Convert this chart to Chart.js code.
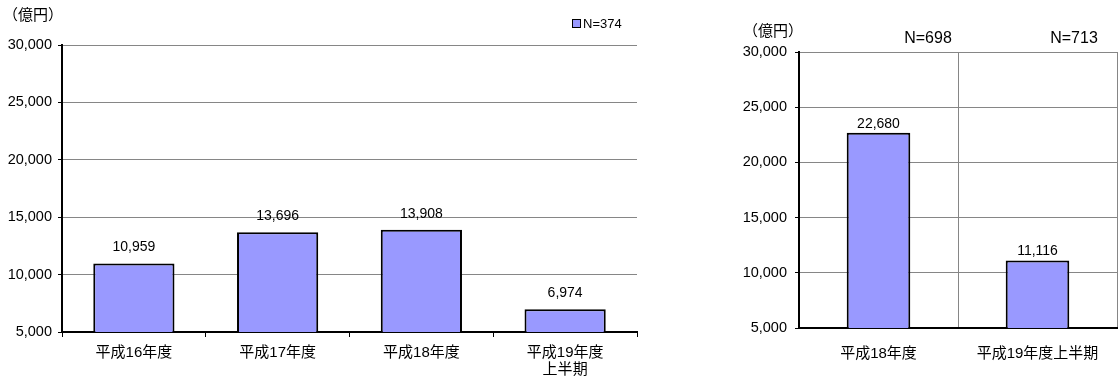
<!DOCTYPE html>
<html lang="ja">
<head>
<meta charset="utf-8">
<title>投資額の推移</title>
<script src="https://cdn.jsdelivr.net/npm/chart.js@4.4.1/dist/chart.umd.min.js"></script>
<style>
    body {
        margin: 0;
        width: 1119px;
        height: 380px;
        position: relative;
        overflow: hidden;
        background: #fff;
        color: #000;
        font-family: 'Liberation Sans', 'Noto Sans CJK JP', sans-serif;
    }
    .panel { position: absolute; top: 0; height: 380px; }
    #panel-fy { left: 0; width: 660px; }
    #panel-half { left: 700px; width: 419px; }
    .note { position: absolute; white-space: nowrap; line-height: 1; }
    .unit { font-size: 15px; }
    .legend { font-size: 13px; display: flex; align-items: center; }
    .legend i {
        display: inline-block;
        width: 7px;
        height: 7px;
        margin-right: 2px;
        background: #9999ff;
        border: 1.5px solid #000;
    }
    .count { font-size: 16px; transform: translateX(-50%); }
</style>
</head>
<body>
<div class="panel" id="panel-fy"><canvas id="fy-chart" width="660" height="380"></canvas></div>
<div class="panel" id="panel-half"><canvas id="half-chart" width="419" height="380"></canvas></div>

<div class="note unit" style="left:3px; top:7px;">（億円）</div>
<div class="note legend" style="left:572px; top:17px;"><i></i>N=374</div>

<div class="note unit" style="left:743px; top:23px;">（億円）</div>
<div class="note count" style="left:928px; top:30px;">N=698</div>
<div class="note count" style="left:1074px; top:30px;">N=713</div>

<script>
// Annual totals (億円)
const fyLabels = ['平成16年度', '平成17年度', '平成18年度', ['平成19年度', '上半期']];
const fyAmounts = [10959, 13696, 13908, 6974];

// Comparison of the last full year with the first half
const halfLabels = ['平成18年度', '平成19年度上半期'];
const halfAmounts = [22680, 11116];

// Shared value axis
const yMin = 5000;
const yMax = 30000;
const yStep = 5000;

const FONT = "'Liberation Sans', 'Noto Sans CJK JP', sans-serif";
const BAR_FILL = '#9999ff';
const GRID = '#868686';

Chart.defaults.font.family = FONT;
Chart.defaults.color = '#000';

// Writes each bar's amount just above it
const valueLabels = {
    id: 'valueLabels',
    afterDatasetsDraw(chart, args, opts) {
        const ctx = chart.ctx;
        const values = chart.data.datasets[0].data;
        chart.getDatasetMeta(0).data.forEach((bar, i) => {
            ctx.save();
            ctx.font = '14px ' + FONT;
            ctx.fillStyle = '#000';
            ctx.textAlign = 'center';
            ctx.textBaseline = 'middle';
            ctx.fillText(values[i].toLocaleString('en-US'), bar.x, bar.y - opts.gap);
            ctx.restore();
        });
    }
};

function valueAxis(labelWidth, padding) {
    return {
        min: yMin,
        max: yMax,
        afterFit: (scale) => { scale.width = labelWidth; },
        ticks: {
            stepSize: yStep,
            padding: padding,
            font: { size: 14.5 },
            callback: (v) => v.toLocaleString('en-US')
        },
        grid: {
            // bottom line is the category axis itself
            color: (c) => (c.tick && c.tick.value === yMin) ? 'rgba(0,0,0,0)' : GRID,
            tickColor: '#000',
            tickLength: 4,
            lineWidth: 1
        },
        border: { display: true, color: '#000', width: 2 }
    };
}

function barDataset(values, share) {
    return {
        data: values,
        backgroundColor: BAR_FILL,
        borderColor: '#000',
        borderWidth: 2,
        borderSkipped: false,
        categoryPercentage: 1,
        barPercentage: share
    };
}

const baseOptions = {
    responsive: false,
    animation: false,
    events: [],
    plugins: { legend: { display: false }, tooltip: { enabled: false } }
};

new Chart(document.getElementById('fy-chart'), {
    type: 'bar',
    data: { labels: fyLabels, datasets: [barDataset(fyAmounts, 0.565)] },
    plugins: [valueLabels],
    options: {
        ...baseOptions,
        layout: { padding: { top: 45, right: 23, left: 0, bottom: 0 } },
        plugins: { ...baseOptions.plugins, valueLabels: { gap: 16 } },
        scales: {
            x: {
                afterFit: (scale) => { scale.height = 48; },
                ticks: {
                    padding: 7,
                    maxRotation: 0,
                    font: { size: 15, lineHeight: 1.15 }
                },
                grid: {
                    offset: true,
                    drawOnChartArea: false,
                    drawTicks: true,
                    tickLength: 5,
                    tickColor: '#000'
                },
                border: { display: true, color: '#000', width: 2 }
            },
            y: valueAxis(62, 6)
        }
    }
});

new Chart(document.getElementById('half-chart'), {
    type: 'bar',
    data: { labels: halfLabels, datasets: [barDataset(halfAmounts, 0.40)] },
    plugins: [valueLabels],
    options: {
        ...baseOptions,
        layout: { padding: { top: 52, right: 2, left: 0, bottom: 0 } },
        plugins: { ...baseOptions.plugins, valueLabels: { gap: 9 } },
        scales: {
            x: {
                afterFit: (scale) => { scale.height = 52; },
                ticks: {
                    padding: 17,
                    maxRotation: 0,
                    font: { size: 15 }
                },
                grid: {
                    offset: true,
                    drawTicks: false,
                    // first divider sits under the value axis
                    color: (c) => c.index === 0 ? 'rgba(0,0,0,0)' : GRID,
                    lineWidth: 1
                },
                border: { display: true, color: '#000', width: 2 }
            },
            y: valueAxis(99, 8)
        }
    }
});
</script>
</body>
</html>
